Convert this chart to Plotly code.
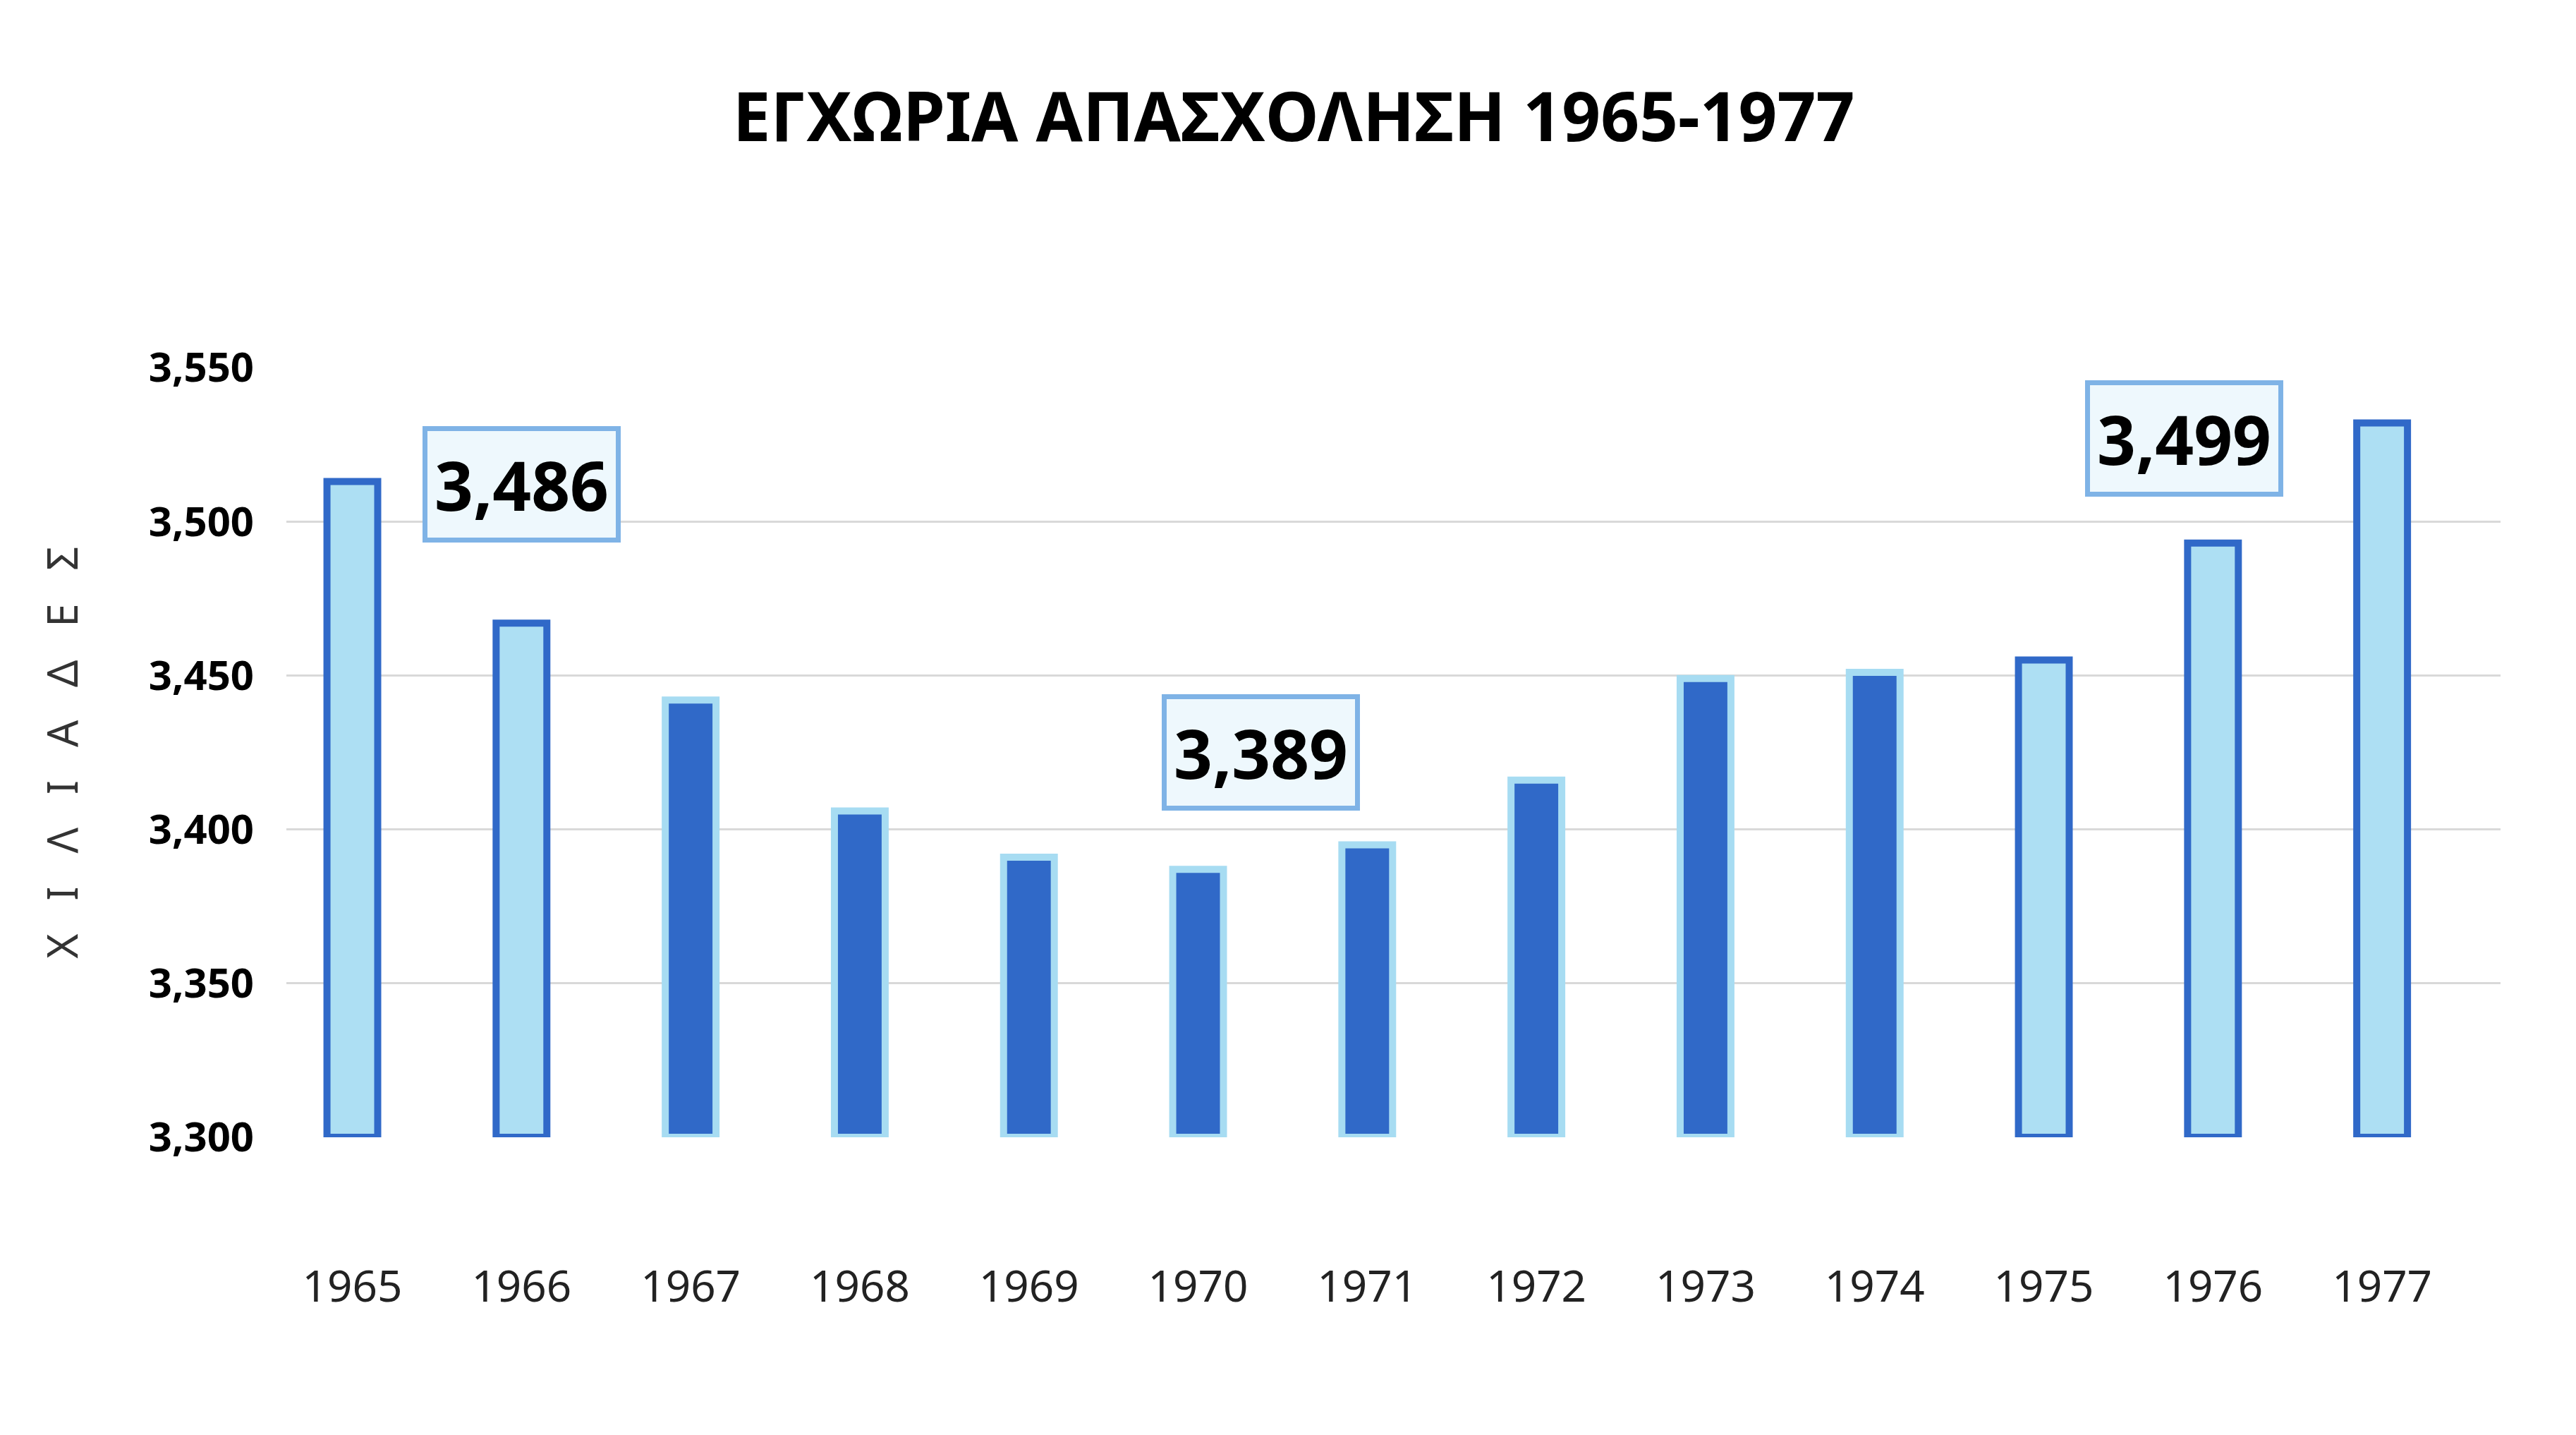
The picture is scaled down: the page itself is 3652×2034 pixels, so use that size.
import plotly.graph_objects as go

years = ["1965","1966","1967","1968","1969","1970","1971","1972","1973","1974","1975","1976","1977"]
values = [3513, 3467, 3442, 3406, 3391, 3387, 3395, 3416, 3449, 3451, 3455, 3493, 3532]
light = [True, True, False, False, False, False, False, False, False, False, True, True, True]
labels = ["3,486", "3,389", "3,499"]
label_x = [1, 5.37, 10.83]
label_y = [3512, 3425, 3527]

LB, DB = "#ADDFF3", "#3069C8"
fills = [LB if l else DB for l in light]
lines = [DB if l else "#A7DCF2" for l in light]

fig = go.Figure(go.Bar(
    x=list(range(len(years))), y=[v - 3300 for v in values], base=3300,
    width=0.3, marker=dict(color=fills, line=dict(color=lines, width=10)),
    hoverinfo="skip"))

for t, x, y in zip(labels, label_x, label_y):
    fig.add_annotation(x=x, y=y, text="<b>%s</b>" % t, showarrow=False,
                       font=dict(family="Noto Sans", size=96, color="black"),
                       bgcolor="#EEF8FD", bordercolor="#7FB3E6", borderwidth=7, borderpad=10)

fig.update_layout(
    width=3652, height=2034, plot_bgcolor="white", paper_bgcolor="white",
    margin=dict(l=398, r=115, t=513, b=430),
    title=dict(text="<b>ΕΓΧΩΡΙΑ ΑΠΑΣΧΟΛΗΣΗ 1965-1977</b>", x=0.5, xanchor="center", y=0.922, yanchor="middle",
               font=dict(family="Noto Sans", size=96, color="black")),
    showlegend=False,
    xaxis=dict(tickmode="array", tickvals=list(range(len(years))), ticktext=years,
               range=[-0.39, 12.7], showgrid=False, zeroline=False,
               tickfont=dict(family="Noto Sans", size=62, color="#222"), ticklabelstandoff=170),
    yaxis=dict(range=[3300, 3550], tickvals=[3300, 3350, 3400, 3450, 3500, 3550], tickformat=",",
               gridcolor="#D9D9D9", gridwidth=3, zeroline=False,
               tickfont=dict(family="Noto Sans", size=58, color="black", weight="bold"),
               ticklabelstandoff=45,
               title=dict(text="Χ   Ι   Λ   Ι   Α   Δ   Ε   Σ", standoff=80,
                          font=dict(family="Noto Sans", size=60, color="#333"))),
)
fig.write_html("out.html")
